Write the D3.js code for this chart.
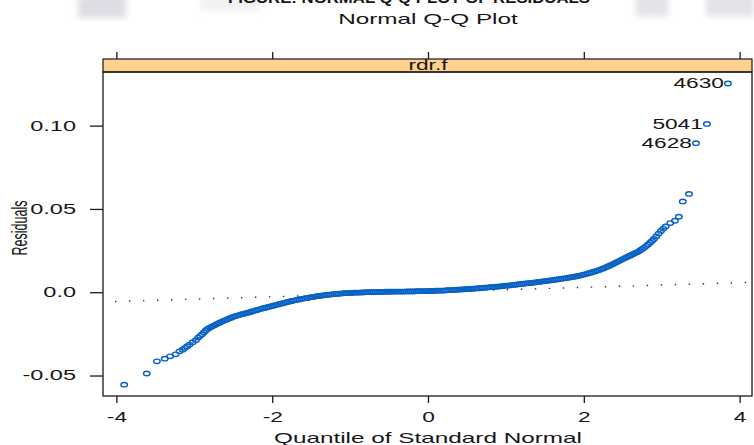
<!DOCTYPE html>
<html>
<head>
<meta charset="utf-8">
<script src="https://cdn.jsdelivr.net/npm/d3@7"></script>
<style>
body { margin: 0; background: #fff; }
text { font-family: Arial, "Liberation Sans", sans-serif; fill: #161616; }
</style>
</head>
<body>
<svg id="chart"></svg>
<script>
// Normal Q-Q plot of residuals (lattice-style panel)

let width = 754, height = 445;

let headingText = "FIGURE: NORMAL Q-Q PLOT OF RESIDUALS";
let titleText = "Normal Q-Q Plot";
let stripText = "rdr.f";
let xLabel = "Quantile of Standard Normal";
let yLabel = "Residuals";

let xTicks = [-4, -2, 0, 2, 4];
let yTicks = [-0.05, 0.0, 0.05, 0.10];
let yTickLabels = ["-0.05", "0.0", "0.05", "0.10"];

// [theoretical quantile, residual]
let leftTail = [
  [-3.90,-0.0555],[-3.61,-0.0488],[-3.48,-0.0415],[-3.38,-0.0399],[-3.31,-0.0385],
  [-3.24,-0.0373],[-3.19,-0.0355],[-3.15,-0.0345],[-3.12,-0.0334],[-3.09,-0.0324],
  [-3.06,-0.0314],[-3.02,-0.0300],[-2.98,-0.0288]
];

let body = [
  [-2.950,-0.0272],[-2.925,-0.0262],[-2.900,-0.0252],[-2.875,-0.0240],[-2.850,-0.0228],[-2.825,-0.0219],[-2.800,-0.0212],[-2.775,-0.0206],
  [-2.750,-0.0200],[-2.725,-0.0194],[-2.700,-0.0188],[-2.675,-0.0183],[-2.650,-0.0178],[-2.625,-0.0172],[-2.600,-0.0167],[-2.575,-0.0162],
  [-2.550,-0.0157],[-2.525,-0.0153],[-2.500,-0.0148],[-2.475,-0.0144],[-2.450,-0.0140],[-2.425,-0.0137],[-2.400,-0.0133],[-2.375,-0.0130],
  [-2.350,-0.0127],[-2.325,-0.0124],[-2.300,-0.0121],[-2.275,-0.0118],[-2.250,-0.0114],[-2.225,-0.0111],[-2.200,-0.0108],[-2.175,-0.0104],
  [-2.150,-0.0101],[-2.125,-0.0097],[-2.100,-0.0094],[-2.075,-0.0091],[-2.050,-0.0088],[-2.025,-0.0085],[-2.000,-0.0082],[-1.975,-0.0079],
  [-1.950,-0.0076],[-1.925,-0.0073],[-1.900,-0.0070],[-1.875,-0.0067],[-1.850,-0.0064],[-1.825,-0.0061],[-1.800,-0.0058],[-1.775,-0.0055],
  [-1.750,-0.0052],[-1.725,-0.0050],[-1.700,-0.0047],[-1.675,-0.0045],[-1.650,-0.0043],[-1.625,-0.0040],[-1.600,-0.0038],[-1.575,-0.0036],
  [-1.550,-0.0034],[-1.525,-0.0032],[-1.500,-0.0030],[-1.475,-0.0028],[-1.450,-0.0026],[-1.425,-0.0024],[-1.400,-0.0022],[-1.375,-0.0021],
  [-1.350,-0.0019],[-1.325,-0.0018],[-1.300,-0.0016],[-1.275,-0.0015],[-1.250,-0.0014],[-1.225,-0.0012],[-1.200,-0.0011],[-1.175,-0.0010],
  [-1.150,-0.0009],[-1.125,-0.0008],[-1.100,-0.0007],[-1.075,-0.0006],[-1.050,-0.0006],[-1.025,-0.0005],[-1.000,-0.0004],[-0.975,-0.0004],
  [-0.950,-0.0003],[-0.925,-0.0003],[-0.900,-0.0002],[-0.875,-0.0002],[-0.850,-0.0001],[-0.825,-0.0001],[-0.800,0.0000],[-0.775,0.0000],
  [-0.750,0.0000],[-0.725,0.0001],[-0.700,0.0001],[-0.675,0.0001],[-0.650,0.0002],[-0.625,0.0002],[-0.600,0.0002],[-0.575,0.0002],
  [-0.550,0.0003],[-0.525,0.0003],[-0.500,0.0003],[-0.475,0.0003],[-0.450,0.0003],[-0.425,0.0004],[-0.400,0.0004],[-0.375,0.0004],
  [-0.350,0.0004],[-0.325,0.0004],[-0.300,0.0004],[-0.275,0.0005],[-0.250,0.0005],[-0.225,0.0005],[-0.200,0.0005],[-0.175,0.0005],
  [-0.150,0.0006],[-0.125,0.0006],[-0.100,0.0006],[-0.075,0.0006],[-0.050,0.0007],[-0.025,0.0007],[0.000,0.0007],[0.025,0.0008],
  [0.050,0.0008],[0.075,0.0008],[0.100,0.0009],[0.125,0.0009],[0.150,0.0009],[0.175,0.0010],[0.200,0.0010],[0.225,0.0011],
  [0.250,0.0012],[0.275,0.0012],[0.300,0.0013],[0.325,0.0014],[0.350,0.0014],[0.375,0.0015],[0.400,0.0016],[0.425,0.0017],
  [0.450,0.0017],[0.475,0.0018],[0.500,0.0019],[0.525,0.0020],[0.550,0.0020],[0.575,0.0021],[0.600,0.0022],[0.625,0.0023],
  [0.650,0.0024],[0.675,0.0025],[0.700,0.0026],[0.725,0.0027],[0.750,0.0028],[0.775,0.0029],[0.800,0.0030],[0.825,0.0031],
  [0.850,0.0032],[0.875,0.0033],[0.900,0.0034],[0.925,0.0035],[0.950,0.0036],[0.975,0.0038],[1.000,0.0039],[1.025,0.0040],
  [1.050,0.0041],[1.075,0.0043],[1.100,0.0044],[1.125,0.0045],[1.150,0.0047],[1.175,0.0048],[1.200,0.0050],[1.225,0.0051],
  [1.250,0.0052],[1.275,0.0054],[1.300,0.0055],[1.325,0.0056],[1.350,0.0058],[1.375,0.0059],[1.400,0.0061],[1.425,0.0062],
  [1.450,0.0064],[1.475,0.0065],[1.500,0.0067],[1.525,0.0068],[1.550,0.0070],[1.575,0.0071],[1.600,0.0073],[1.625,0.0075],
  [1.650,0.0076],[1.675,0.0078],[1.700,0.0080],[1.725,0.0082],[1.750,0.0083],[1.775,0.0085],[1.800,0.0087],[1.825,0.0089],
  [1.850,0.0091],[1.875,0.0093],[1.900,0.0095],[1.925,0.0098],[1.950,0.0100],[1.975,0.0103],[2.000,0.0106],[2.025,0.0109],
  [2.050,0.0112],[2.075,0.0116],[2.100,0.0119],[2.125,0.0123],[2.150,0.0126],[2.175,0.0130],[2.200,0.0134],[2.225,0.0139],
  [2.250,0.0143],[2.275,0.0148],[2.300,0.0153],[2.325,0.0158],[2.350,0.0164],[2.375,0.0169],[2.400,0.0175],[2.425,0.0181],
  [2.450,0.0187],[2.475,0.0193],[2.500,0.0199],[2.525,0.0205],[2.550,0.0210],[2.575,0.0216],[2.600,0.0221],[2.625,0.0227],
  [2.650,0.0233],[2.675,0.0238],[2.700,0.0244],[2.725,0.0252],[2.750,0.0260],[2.775,0.0268],[2.800,0.0277],[2.825,0.0287],
  [2.850,0.0297],[2.875,0.0308],[2.900,0.0320]
];

let rightTail = [
  [2.93,0.0335],[2.96,0.0352],[2.99,0.0368],[3.02,0.0382],[3.05,0.0395],
  [3.11,0.0415],[3.17,0.0429],[3.22,0.0453],[3.27,0.0545],[3.35,0.0590]
];

let labelled = [
  {id: "4628", q: 3.44, r: 0.0895},
  {id: "5041", q: 3.58, r: 0.1010},
  {id: "4630", q: 3.85, r: 0.1253}
];

// qqline: intercept and slope in residual units
let refIntercept = 0.0001, refSlope = 0.00141;

// the source image is stretched sideways, so text gets widened too
let stretch = 1.62;

let panel = {left: 103, right: 752, top: 72, bottom: 396, stripTop: 59};

let x = d3.scaleLinear().domain([-4.172, 4.159]).range([panel.left, panel.right]);
let y = d3.scaleLinear().domain([-0.0623, 0.1322]).range([panel.bottom, panel.top]);

let svg = d3.select("#chart")
  .attr("width", width)
  .attr("height", height);

function widen(sel, k) {
  sel.each(function() {
    let w = this.getComputedTextLength();
    d3.select(this).attr("textLength", w * k).attr("lengthAdjust", "spacingAndGlyphs");
  });
}

// blurry scan smudges along the top edge
let defs = svg.append("defs");
defs.append("filter").attr("id", "smudge")
  .append("feGaussianBlur").attr("stdDeviation", 3);

let smudges = svg.append("g").attr("filter", "url(#smudge)").attr("fill", "#cfcfd8");
smudges.append("rect").attr("x", 78).attr("y", -4).attr("width", 48).attr("height", 22).attr("opacity", 0.7);
smudges.append("rect").attr("x", 200).attr("y", -4).attr("width", 60).attr("height", 14).attr("opacity", 0.3);
smudges.append("rect").attr("x", 636).attr("y", -4).attr("width", 32).attr("height", 20).attr("opacity", 0.6);
smudges.append("rect").attr("x", 706).attr("y", -4).attr("width", 48).attr("height", 20).attr("opacity", 0.6);

// cut-off heading at the very top
svg.append("text")
  .attr("x", 409).attr("y", 3)
  .attr("text-anchor", "middle")
  .style("font-size", "15px").style("font-weight", "bold")
  .attr("textLength", 362)
  .attr("lengthAdjust", "spacingAndGlyphs")
  .text(headingText);

svg.append("text")
  .attr("x", 428).attr("y", 24)
  .attr("text-anchor", "middle")
  .style("font-size", "15px")
  .text(titleText)
  .call(widen, stretch);

defs.append("clipPath").attr("id", "clip")
  .append("rect")
  .attr("x", panel.left).attr("y", panel.top)
  .attr("width", panel.right - panel.left).attr("height", panel.bottom - panel.top);

// strip
svg.append("rect")
  .attr("x", panel.left).attr("y", panel.stripTop)
  .attr("width", panel.right - panel.left).attr("height", panel.top - panel.stripTop)
  .attr("fill", "#ffd18f")
  .attr("stroke", "#1a1a1a").attr("stroke-width", 1.2);

svg.append("text")
  .attr("x", x(0)).attr("y", panel.top - 2)
  .attr("text-anchor", "middle")
  .style("font-size", "14px")
  .text(stripText)
  .call(widen, stretch);

// axes
function styleAxis(g) {
  g.select(".domain").remove();
  g.selectAll(".tick line").attr("stroke", "#1a1a1a").attr("stroke-width", 1.3);
  g.selectAll(".tick text")
    .style("font-size", "14px")
    .style("font-family", "Arial, 'Liberation Sans', sans-serif")
    .attr("fill", "#161616");
}

svg.append("g")
  .attr("transform", `translate(0,${panel.bottom})`)
  .call(d3.axisBottom(x).tickValues(xTicks).tickSize(7).tickPadding(9).tickFormat(d => String(d)))
  .call(styleAxis)
  .call(g => g.selectAll(".tick text").call(widen, stretch));

svg.append("g")
  .attr("transform", `translate(0,${panel.stripTop})`)
  .call(d3.axisTop(x).tickValues(xTicks).tickSize(7).tickFormat(""))
  .call(styleAxis);

svg.append("g")
  .attr("transform", `translate(${panel.left},0)`)
  .call(d3.axisLeft(y).tickValues(yTicks).tickSize(13).tickPadding(14)
    .tickFormat((d, i) => yTickLabels[i]))
  .call(styleAxis)
  .call(g => g.selectAll(".tick text").call(widen, 1.68));

// reference line, dotted
let plot = svg.append("g").attr("clip-path", "url(#clip)");

plot.append("path")
  .attr("d", d3.line()([
    [x(x.domain()[0]), y(refIntercept + refSlope * x.domain()[0])],
    [x(x.domain()[1]), y(refIntercept + refSlope * x.domain()[1])]
  ]))
  .attr("fill", "none")
  .attr("stroke", "#333")
  .attr("stroke-width", 1.4)
  .attr("stroke-dasharray", "1.4 12.6")
  .attr("stroke-dashoffset", 2);

// points
let allPoints = leftTail.concat(body, rightTail, labelled.map(d => [d.q, d.r]));

plot.append("g")
  .selectAll("ellipse")
  .data(allPoints)
  .enter()
  .append("ellipse")
  .attr("cx", d => x(d[0]))
  .attr("cy", d => y(d[1]))
  .attr("rx", 3.3)
  .attr("ry", 2.2)
  .attr("fill", "none")
  .attr("stroke", "#0862c4")
  .attr("stroke-width", 1.4);

// point ids
svg.append("g")
  .selectAll("text")
  .data(labelled)
  .enter()
  .append("text")
  .attr("x", d => x(d.q) - 4)
  .attr("y", d => y(d.r) + 5)
  .attr("text-anchor", "end")
  .style("font-size", "14px")
  .text(d => d.id)
  .call(widen, stretch);

// panel frame
svg.append("rect")
  .attr("x", panel.left).attr("y", panel.top)
  .attr("width", panel.right - panel.left).attr("height", panel.bottom - panel.top)
  .attr("fill", "none")
  .attr("stroke", "#1a1a1a").attr("stroke-width", 1.3);

// axis titles
svg.append("text")
  .attr("x", x(0)).attr("y", 443)
  .attr("text-anchor", "middle")
  .style("font-size", "15px")
  .text(xLabel)
  .call(widen, stretch);

svg.append("text")
  .attr("transform", "translate(27,228) rotate(-90) scale(1,1.55)")
  .attr("text-anchor", "middle")
  .style("font-size", "14px")
  .attr("textLength", 55)
  .attr("lengthAdjust", "spacingAndGlyphs")
  .text(yLabel);
</script>
</body>
</html>
